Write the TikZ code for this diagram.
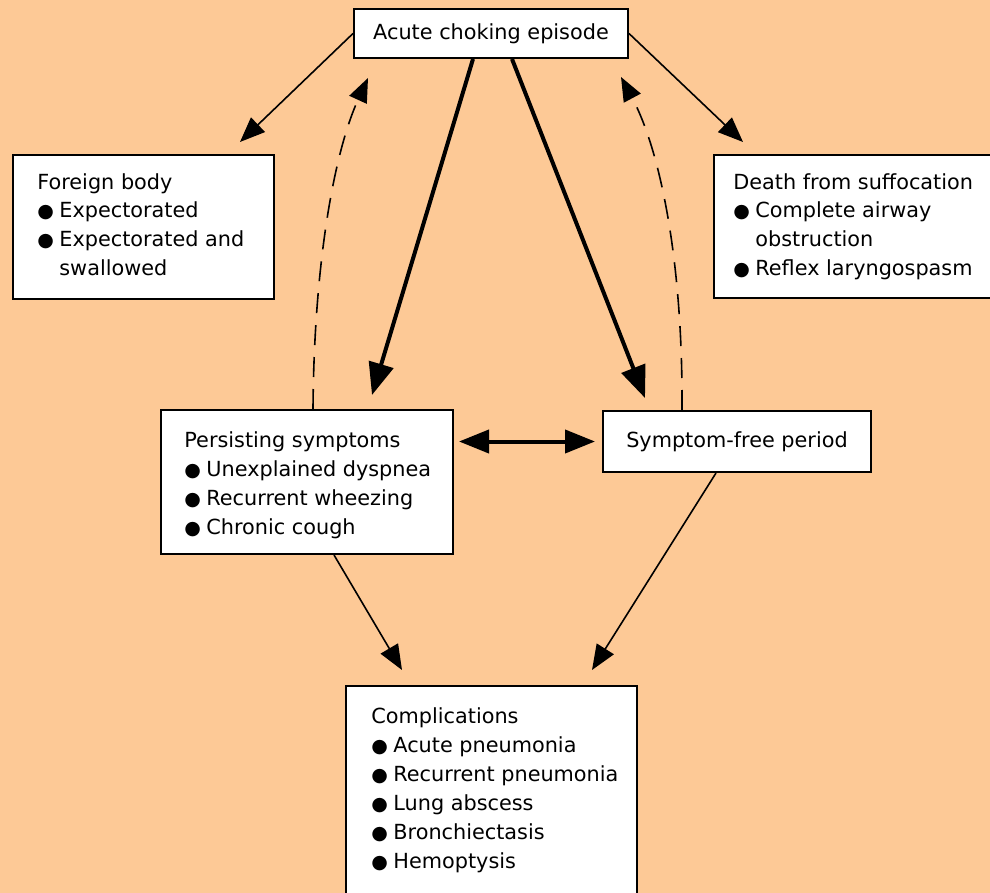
\documentclass[tikz,border=0pt]{standalone}
\usepackage{fontspec}
\setmainfont{DejaVu Sans}
\usetikzlibrary{arrows.meta,calc}
\definecolor{peach}{RGB}{253,201,150}
\newcommand{\bul}{\makebox[11pt][l]{\fontsize{9.5}{9.5}\selectfont ●}}
\newcommand{\ind}{\hspace*{11pt}}
\begin{document}
\begin{tikzpicture}[x=0.5pt,y=-0.5pt,
  box/.style={draw=black, line width=1pt, fill=white, rectangle, inner sep=0pt, anchor=north west,
    font=\fontsize{10.4}{14.5}\selectfont},
  txt/.style={anchor=base west, inner sep=0pt, align=left, font=\fontsize{10.4}{14.5}\selectfont},
  thinarr/.style={line width=0.8pt, -{Triangle[length=12.5pt,width=10pt]}},
  thickarr/.style={line width=2pt, -{Triangle[length=16pt,width=12.5pt]}},
  dasharr/.style={line width=0.8pt, dash pattern=on 10pt off 6pt, -{Triangle[length=12pt,width=9.5pt]}},
  dblarr/.style={line width=2pt, {Triangle[length=15pt,width=11.5pt]}-{Triangle[length=15pt,width=11.5pt]}}]
\useasboundingbox (0,0) rectangle (990,893);
\fill[peach] (0,0) rectangle (990,893);
\clip (0,0) rectangle (990,893);

% boxes
\node[box, minimum width=137pt, minimum height=24.5pt] (acute) at (353,8) {Acute choking episode};
\node[box, minimum width=130.5pt, minimum height=72pt] (fb) at (12,154) {};
\node[box, minimum width=150pt, minimum height=71.5pt] (death) at (713,154) {};
\node[box, minimum width=146pt, minimum height=72pt] (pers) at (160,409) {};
\node[box, minimum width=134pt, minimum height=30.5pt] (sf) at (602,410) {Symptom-free period};
\node[box, minimum width=145.5pt, minimum height=125pt] (comp) at (345,685) {};

% texts (anchored at the baseline of their last line)
\node[txt] (fbt) at (37,276) {Foreign body\\\bul Expectorated\\\bul Expectorated and\\\ind swallowed};
\node[txt] (det) at (733,276) {Death from suffocation\\\bul Complete airway\\\ind obstruction\\\bul Reflex laryngospasm};
\node[txt] (pet) at (184,534) {Persisting symptoms\\\bul Unexplained dyspnea\\\bul Recurrent wheezing\\\bul Chronic cough};
\node[txt] (cot) at (371,868) {Complications\\\bul Acute pneumonia\\\bul Recurrent pneumonia\\\bul Lung abscess\\\bul Bronchiectasis\\\bul Hemoptysis};

% free arrow ends
\coordinate (fbtip) at (240,142);
\coordinate (dtip) at (743,142);
\coordinate (ltip) at (372,395);
\coordinate (rtip) at (645,398);
\coordinate (ldtip) at (368,78);
\coordinate (rdtip) at (621,77);
\coordinate (cltip) at (402,670);
\coordinate (crtip) at (592,670);

% connectors
\draw[thinarr] (acute.west) -- (fbtip);
\draw[thinarr] (acute.east) -- (dtip);
\draw[thickarr] ($(acute.south)+(-18,0)$) -- (ltip);
\draw[thickarr] ($(acute.south)+(21,0)$) -- (rtip);
\draw[dasharr] ($(pers.north)+(6,0)$) .. controls (314,260) and (335,150) .. (ldtip);
\draw[dasharr] ($(sf.north)+(-55,0)$) .. controls (683,260) and (660,150) .. (rdtip);
\draw[dblarr, shorten <=2.5pt, shorten >=3.5pt] (pers.east |- sf.west) -- (sf.west);
\draw[thinarr] ($(pers.south)+(27,0)$) -- (cltip);
\draw[thinarr] ($(sf.south)+(-21,0)$) -- (crtip);
\end{tikzpicture}
\end{document}
